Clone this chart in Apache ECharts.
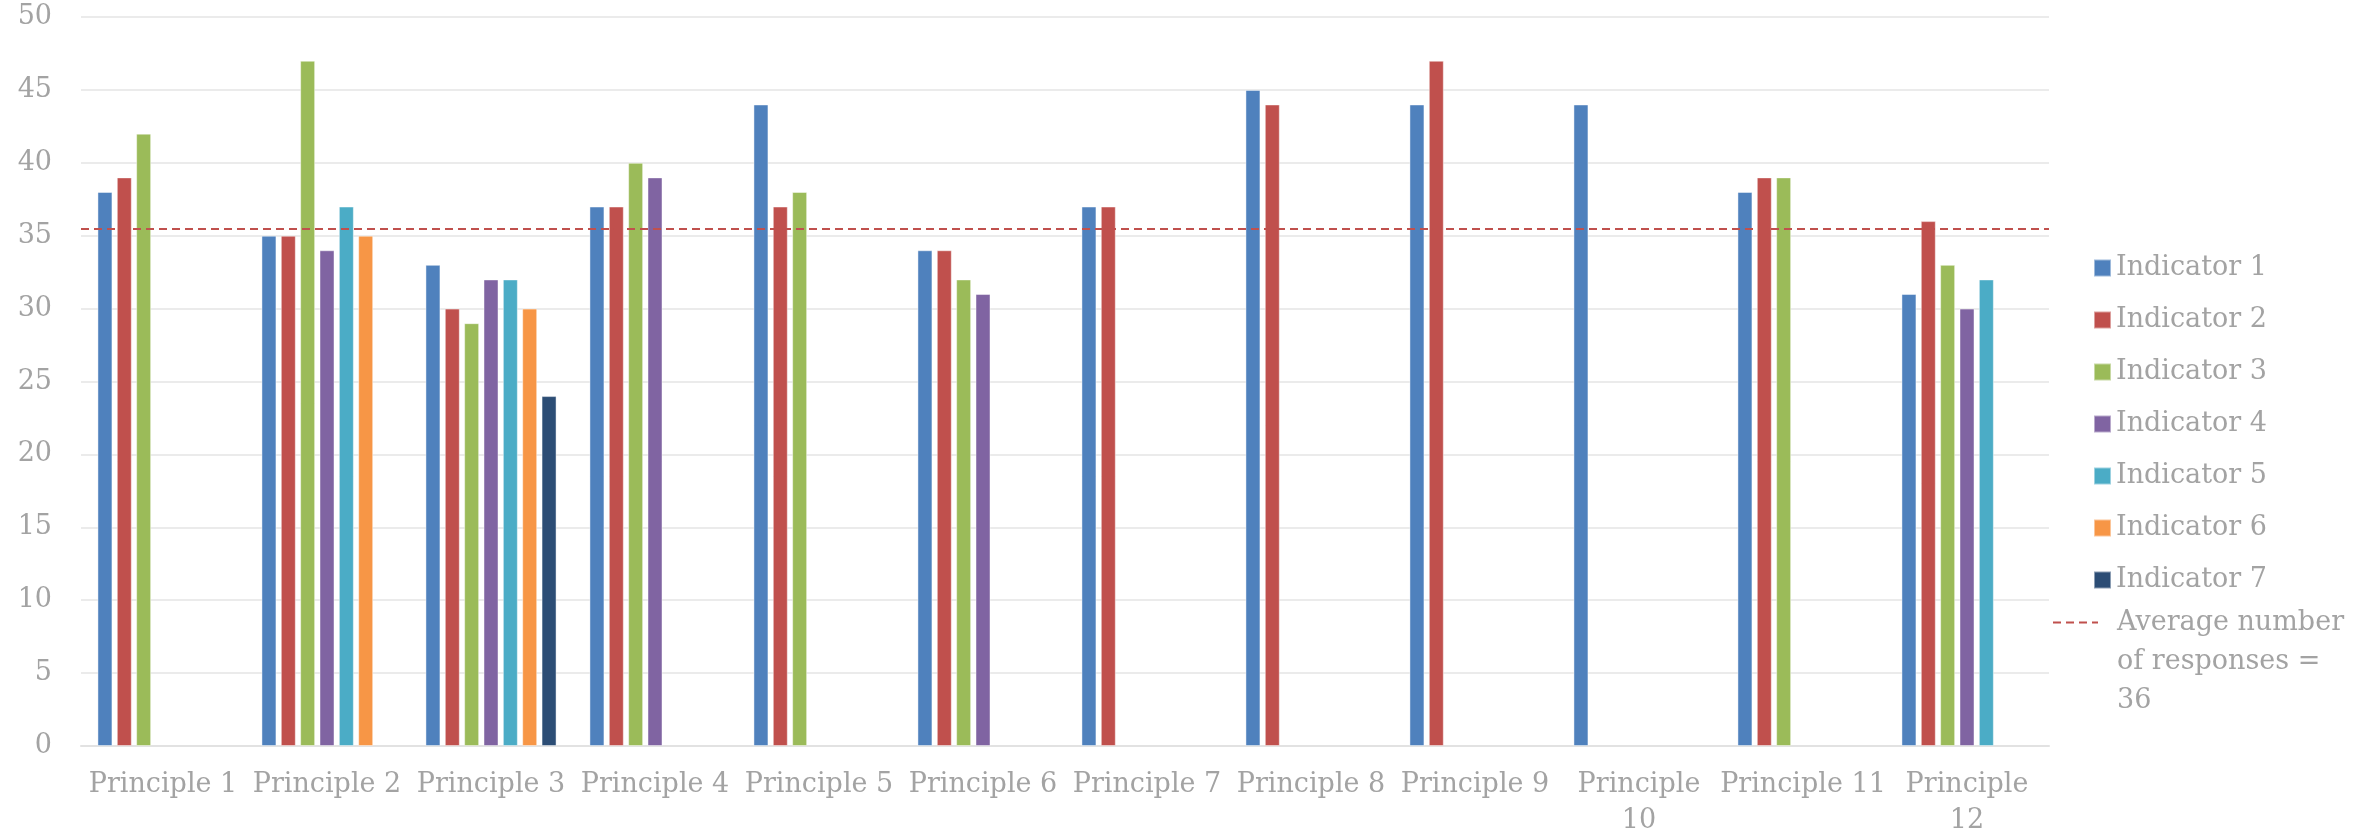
<!DOCTYPE html>
<html>
<head>
<meta charset="utf-8">
<title>Responses per indicator by principle</title>
<script src="https://cdn.jsdelivr.net/npm/echarts@6/dist/echarts.min.js"></script>
<style>
  html, body { margin: 0; padding: 0; background: #ffffff; }
  #chart { width: 2379px; height: 836px; }
</style>
</head>
<body>
<div id="chart"></div>
<script>
// Category labels (two of them wrap onto a second line)
const principles = [
  'Principle 1', 'Principle 2', 'Principle 3', 'Principle 4', 'Principle 5', 'Principle 6',
  'Principle 7', 'Principle 8', 'Principle 9', 'Principle\n10', 'Principle 11', 'Principle\n12'
];

// Number of responses per indicator, one value per principle (null = no such indicator)
const indicator1 = [38, 35, 33, 37, 44, 34, 37, 45, 44, 44, 38, 31];
const indicator2 = [39, 35, 30, 37, 37, 34, 37, 44, 47, null, 39, 36];
const indicator3 = [42, 47, 29, 40, 38, 32, null, null, null, null, 39, 33];
const indicator4 = [null, 34, 32, 39, null, 31, null, null, null, null, null, 30];
const indicator5 = [null, 37, 32, null, null, null, null, null, null, null, null, 32];
const indicator6 = [null, 35, 30, null, null, null, null, null, null, null, null, null];
const indicator7 = [null, null, 24, null, null, null, null, null, null, null, null, null];

const indicatorNames = ['Indicator 1', 'Indicator 2', 'Indicator 3', 'Indicator 4', 'Indicator 5', 'Indicator 6', 'Indicator 7'];
const indicatorValues = [indicator1, indicator2, indicator3, indicator4, indicator5, indicator6, indicator7];
const indicatorColors = ['#4F81BD', '#C0504D', '#9BBB59', '#8064A2', '#4BACC6', '#F79646', '#2C4D75'];

// Reference level drawn as a dashed line across the plot
const avgResponses = 35.5;
const avgName = 'Average number of responses = ' + Math.round(avgResponses);

const yTicks = { min: 0, max: 50, interval: 5 };

const FONT = '"DejaVu Serif", "Liberation Serif", serif';
const TEXT_GREY = '#a3a3a3';
const AVG_RED = '#C0504D';

// Dashed-line legend marker: four short dashes, 45 x 2
const DASH_ICON = 'path://M0,0H8V2H0Z M13,0H21V2H13Z M26,0H34V2H26Z M39,0H45V2H39Z';

const barSeries = indicatorNames.map((name, i) => ({
  name: name,
  type: 'bar',
  data: indicatorValues[i],
  barWidth: 15,
  barGap: '29%',
  itemStyle: {
    color: indicatorColors[i],
    borderColor: 'rgba(255,255,255,0.45)',
    borderWidth: 1
  },
  emphasis: { disabled: true }
}));

const avgSeries = {
  name: avgName,
  type: 'line',
  data: [],
  symbol: 'none',
  color: AVG_RED,
  lineStyle: { color: AVG_RED, width: 2, type: [8, 5] },
  markLine: {
    silent: true,
    symbol: 'none',
    label: { show: false },
    lineStyle: { color: AVG_RED, width: 2, type: [8, 5] },
    data: [{ yAxis: avgResponses }]
  }
};

const chart = echarts.init(document.getElementById('chart'), null, { renderer: 'canvas' });

chart.setOption({
  animation: false,
  backgroundColor: '#ffffff',
  textStyle: { fontFamily: FONT },
  grid: { left: 81, right: 330, top: 17, bottom: 90, containLabel: false, outerBoundsMode: 'none' },
  xAxis: {
    type: 'category',
    data: principles,
    axisTick: { show: false },
    axisLine: { lineStyle: { color: '#e2e2e2', width: 2 } },
    axisLabel: {
      interval: 0,
      margin: 21,
      color: TEXT_GREY,
      fontFamily: FONT,
      fontSize: 27,
      lineHeight: 36
    }
  },
  yAxis: {
    type: 'value',
    min: yTicks.min,
    max: yTicks.max,
    interval: yTicks.interval,
    axisLine: { show: false },
    axisTick: { show: false },
    splitLine: { lineStyle: { color: '#e4e4e4', width: 1.5 } },
    axisLabel: {
      margin: 29,
      color: TEXT_GREY,
      fontFamily: FONT,
      fontSize: 27
    }
  },
  legend: [
    {
      data: indicatorNames,
      orient: 'vertical',
      left: 2093,
      top: 250,
      padding: 0,
      icon: 'rect',
      itemWidth: 17,
      itemHeight: 17,
      itemGap: 16,
      selectedMode: false,
      textStyle: { color: TEXT_GREY, fontFamily: FONT, fontSize: 27, lineHeight: 36 }
    },
    {
      data: [{ name: avgName, icon: DASH_ICON, itemStyle: { color: AVG_RED } }],
      orient: 'vertical',
      left: 2053,
      top: 525,
      padding: 0,
      itemWidth: 45,
      itemHeight: 2,
      selectedMode: false,
      // two blank lines ahead keep the marker level with the first text line
      formatter: name => '\n\n' + name.replace(' of', '\nof').replace('= ', '=\n'),
      textStyle: { color: TEXT_GREY, fontFamily: FONT, fontSize: 27, lineHeight: 39, padding: [0, 0, 0, 14] }
    }
  ],
  series: barSeries.concat([avgSeries])
});
</script>
</body>
</html>
